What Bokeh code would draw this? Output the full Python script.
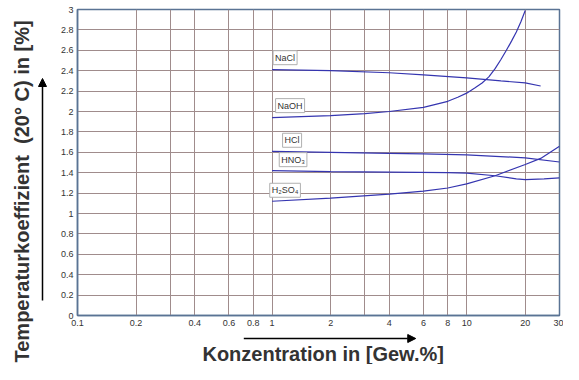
import math
from bokeh.plotting import figure
from bokeh.layouts import row, column
from bokeh.models import (Range1d, FixedTicker, CustomJSTickFormatter, Label,
                          Arrow, NormalHead)
from bokeh.embed import file_html
from bokeh.resources import INLINE

# ---------------- data ----------------
x_ticks = [0.1, 0.2, 0.4, 0.6, 0.8, 1, 2, 4, 6, 8, 10, 20, 30]
x_grid = [0.1, 0.2, 0.3, 0.4, 0.6, 0.8, 1, 2, 3, 4, 6, 8, 10, 20, 30]
y_ticks = [0, 0.2, 0.4, 0.6, 0.8, 1, 1.2, 1.4, 1.6, 1.8, 2, 2.2, 2.4, 2.6, 2.8, 3]

nacl_x = [1, 2, 4, 6, 10, 15, 20, 24]
nacl_y = [2.41, 2.40, 2.38, 2.36, 2.33, 2.30, 2.28, 2.25]

naoh_x = [1, 2, 3, 4, 6, 8, 9, 10, 11, 12, 13, 14, 15, 16, 17, 18, 19, 20]
naoh_y = [1.94, 1.96, 1.98, 2.00, 2.04, 2.10, 2.14, 2.18, 2.23, 2.28, 2.34,
          2.42, 2.51, 2.60, 2.69, 2.78, 2.88, 2.99]

hcl_x = [1, 2, 4, 6, 10, 20, 30]
hcl_y = [1.61, 1.60, 1.59, 1.585, 1.575, 1.546, 1.505]

hno3_x = [1, 2, 4, 8, 10, 14, 18, 20, 25, 30]
hno3_y = [1.42, 1.41, 1.405, 1.40, 1.395, 1.37, 1.34, 1.333, 1.34, 1.35]

h2so4_x = [1, 2, 4, 6, 8, 10, 14, 20, 24, 30]
h2so4_y = [1.12, 1.15, 1.19, 1.22, 1.25, 1.29, 1.37, 1.48, 1.54, 1.66]

series_names = ["NaCl", "NaOH", "HCl", "HNO\u2083", "H\u2082SO\u2084"]
series_x = [nacl_x, naoh_x, hcl_x, hno3_x, h2so4_x]
series_y = [nacl_y, naoh_y, hcl_y, hno3_y, h2so4_y]
label_dx = [13, 18, 20, 21, 13]     # pixel offsets of the name boxes
label_dy = [12, 12, 11, 11, 11]

x_title = "Konzentration in [Gew.%]"
y_title = "Temperaturkoeffizient\u00a0\u00a0(20° C) in [%]"

# ---------------- styling ----------------
FONT = "Liberation Sans"
LINE = "#3535b0"
GRID = "#a08c8c"
AXC = "#5a7394"
TITLE_C = "#333333"

LEFT_W, MAIN_W = 50, 513
MAIN_H, BOTTOM_H = 331, 33
TOTAL_H = MAIN_H + BOTTOM_H

# ---------------- main chart ----------------
p = figure(width=MAIN_W, height=MAIN_H, x_axis_type="log",
           x_range=Range1d(0.1, 30), y_range=Range1d(0, 3),
           output_backend="svg", toolbar_location=None,
           min_border_left=27, min_border_right=4,
           min_border_top=9, min_border_bottom=16,
           background_fill_color="white", border_fill_color="white")

p.outline_line_color = AXC
p.outline_line_width = 1.5

p.xaxis.ticker = FixedTicker(ticks=x_ticks)
p.yaxis.ticker = FixedTicker(ticks=y_ticks)
p.xaxis.formatter = CustomJSTickFormatter(code="return String(Math.round(tick*10)/10);")
p.yaxis.formatter = CustomJSTickFormatter(code="return String(Math.round(tick*10)/10);")

for ax in (p.xaxis[0], p.yaxis[0]):
    ax.axis_line_color = AXC
    ax.axis_line_width = 1.5
    ax.major_tick_in = 0
    ax.major_tick_out = 0
    ax.minor_tick_in = 0
    ax.minor_tick_out = 0
    ax.major_label_text_font = FONT
    ax.major_label_text_font_size = "9px"
    ax.major_label_text_color = "#333333"
    ax.major_label_standoff = 4

p.xgrid.ticker = FixedTicker(ticks=x_grid)
p.ygrid.ticker = FixedTicker(ticks=y_ticks)
for g in (p.xgrid[0], p.ygrid[0]):
    g.grid_line_color = GRID
    g.grid_line_width = 1

for name, xs, ys, dx, dy in zip(series_names, series_x, series_y, label_dx, label_dy):
    p.line(xs, ys, line_color=LINE, line_width=1.2)
    p.add_layout(Label(x=xs[0], y=ys[0], x_offset=dx, y_offset=dy,
                       text=name, text_font=FONT, text_font_size="9px",
                       text_color="#333333", text_align="center",
                       text_baseline="middle",
                       background_fill_color="white",
                       border_line_color="#b0b0b0", border_line_width=1,
                       padding=2))


# ---------------- title strips (pixel-space panels) ----------------
def strip(w, h):
    s = figure(width=w, height=h, x_range=Range1d(0, w), y_range=Range1d(h, 0),
               output_backend="svg", toolbar_location=None,
               min_border=0, min_border_left=0, min_border_right=0,
               min_border_top=0, min_border_bottom=0,
               background_fill_color="white", border_fill_color="white")
    s.axis.visible = False
    s.grid.visible = False
    s.outline_line_color = None
    return s


left = strip(LEFT_W, TOTAL_H)
left.add_layout(Arrow(end=NormalHead(size=8, fill_color="black", line_color="black"),
                      x_start=42, y_start=300, x_end=42, y_end=78,
                      line_color="black", line_width=1.5))
left.add_layout(Label(x=21, y=362, text=y_title, angle=math.pi / 2,
                      text_font=FONT, text_font_size="20px", text_font_style="bold",
                      text_color=TITLE_C, text_align="left", text_baseline="middle"))

bottom = strip(MAIN_W, BOTTOM_H)
bottom.add_layout(Arrow(end=NormalHead(size=8, fill_color="black", line_color="black"),
                        x_start=177, y_start=7, x_end=360, y_end=7,
                        line_color="black", line_width=1.5))
bottom.add_layout(Label(x=133, y=22, text=x_title,
                        text_font=FONT, text_font_size="20px", text_font_style="bold",
                        text_color=TITLE_C, text_align="left", text_baseline="middle"))

layout = row(left, column(p, bottom, spacing=0), spacing=0)

open("out.html", "w").write(file_html(layout, INLINE))
